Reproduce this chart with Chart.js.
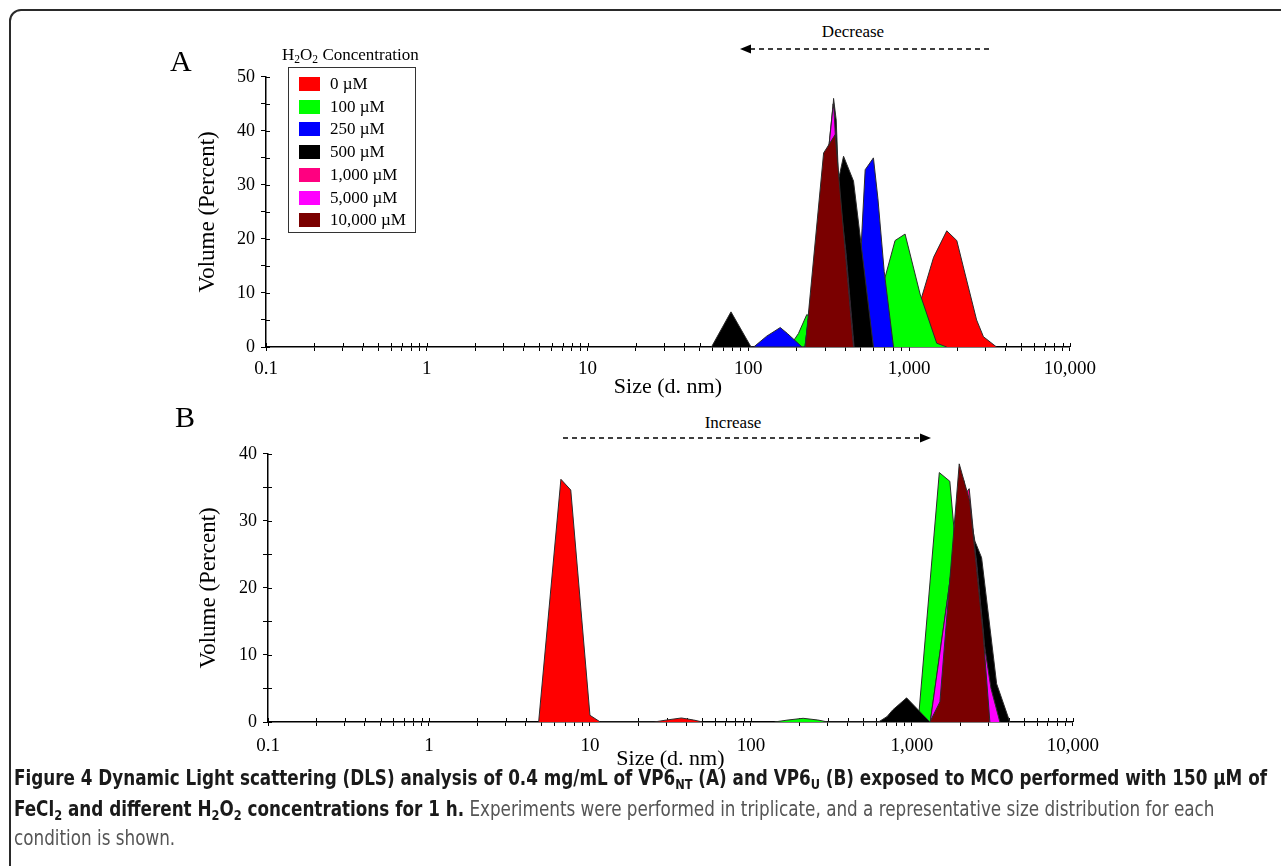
<!DOCTYPE html>
<html>
<head>
<meta charset="utf-8">
<script src="https://cdn.jsdelivr.net/npm/chart.js@4.4.1/dist/chart.umd.min.js"></script>
<style>
  body { margin: 0; background: #fff; width: 1281px; height: 866px; overflow: hidden; position: relative; font-family: "Liberation Serif", serif; color: #000; }
  .frame { position: absolute; left: 9px; top: 9px; width: 1300px; height: 900px; border: 2px solid #2a2a2a; border-radius: 12px; box-sizing: border-box; }
  canvas { position: absolute; }
  #chartA { left: 190px; top: 60px; }
  #chartB { left: 191px; top: 437px; }
  .panel { position: absolute; font-size: 30px; line-height: 30px; }
  sub { font-size: 68%; vertical-align: -0.3em; line-height: 0; }
  #legTitle { position: absolute; left: 282px; top: 45px; font-size: 17px; white-space: nowrap; }
  #legend { position: absolute; left: 288px; top: 67px; width: 128px; height: 166px; border: 1.5px solid #333; box-sizing: border-box; background: #fff; }
  .item { position: absolute; left: 10px; height: 20px; font-size: 17px; line-height: 20px; white-space: nowrap; }
  .item span.sw { position: absolute; left: 0; top: 3px; width: 21px; height: 14px; }
  .item span.tx { position: absolute; left: 31px; top: 0; }
  .note { position: absolute; font-size: 17px; white-space: nowrap; transform: translateX(-50%); }
  .cap { position: absolute; left: 14px; top: 0; height: 30px; line-height: 30px; font-family: "Liberation Sans Narrow", "DejaVu Sans Condensed", "Liberation Sans", sans-serif; font-size: 21px; color: #555; white-space: nowrap; transform-origin: 0 50%; }
  .cap b { color: #1a1a1a; }
</style>
</head>
<body>
<div class="frame"></div>
<canvas id="chartA" width="913" height="344"></canvas>
<canvas id="chartB" width="917" height="337"></canvas>

<div class="panel" style="left:170px; top:46px;">A</div>
<div class="panel" style="left:175px; top:402px;">B</div>

<div id="legTitle">H<sub>2</sub>O<sub>2</sub> Concentration</div>
<div id="legend"></div>

<div class="note" style="left:853px; top:22px;">Decrease</div>
<div class="note" style="left:733px; top:413px;">Increase</div>
<svg style="position:absolute; left:0; top:0;" width="1281" height="866">
  <line x1="750" y1="49" x2="993" y2="49" stroke="#000" stroke-width="1.3" stroke-dasharray="5,4"/>
  <polygon points="740,49 751,44.5 751,53.5" fill="#000"/>
  <line x1="563" y1="438" x2="921" y2="438" stroke="#000" stroke-width="1.3" stroke-dasharray="5,4"/>
  <polygon points="931,438 920,433.5 920,442.5" fill="#000"/>
</svg>

<div class="cap" id="cap1" style="top:763px;"><b>Figure 4 Dynamic Light scattering (DLS) analysis of 0.4 mg/mL of VP6<sub>NT</sub> (A) and VP6<sub>U</sub> (B) exposed to MCO performed with 150 µM of</b></div>
<div class="cap" id="cap2" style="top:794px;"><b>FeCl<sub>2</sub> and different H<sub>2</sub>O<sub>2</sub> concentrations for 1 h.</b> Experiments were performed in triplicate, and a representative size distribution for each</div>
<div class="cap" id="cap3" style="top:823px;">condition is shown.</div>

<script>
// legend / series
const seriesLabels = ['0 µM', '100 µM', '250 µM', '500 µM', '1,000 µM', '5,000 µM', '10,000 µM'];
const seriesColors = ['#ff0000', '#00ff00', '#0000ff', '#000000', '#ff0080', '#ff00ff', '#7a0000'];

// x axis: decades and their labels
const xDecades = [0.1, 1, 10, 100, 1000, 10000];
const xTickLabels = ['0.1', '1', '10', '100', '1,000', '10,000'];

// panel A (VP6 NT) - [size d.nm, volume %]
const a0uM = [[900, 0], [1100, 4.5], [1200, 9.3], [1420, 16.6], [1715, 21.5], [1980, 19.7], [2175, 14.8], [2630, 5], [2900, 1.9], [3500, 0]];
const a100uM = [[180, 0], [205, 2.5], [231, 6], [260, 5], [300, 4], [400, 3], [500, 5], [600, 8], [709, 12.9], [818, 19.7], [944, 20.9], [1170, 9.8], [1485, 0.7], [1715, 0]];
const a250uM = [[108, 0], [130, 2], [158, 3.6], [175, 2.5], [216, 0], [440, 0], [480, 6], [510, 22], [533, 32.8], [600, 35], [640, 27.4], [700, 14], [800, 0]];
const a500uM = [[59, 0], [78, 6.5], [104, 0], [250, 0], [300, 22], [333, 42], [339, 46], [352, 42], [364, 31], [391, 35.3], [451, 30.7], [600, 0]];
const a1000uM = [[225, 0], [300, 30], [337, 45], [342, 43], [362, 30], [400, 17], [452, 0]];
const a5000uM = [[225, 0], [300, 30], [335, 44], [340, 44.5], [360, 31], [405, 17.5], [455, 0]];
const a10000uM = [[226, 0], [294, 35.9], [347, 39.3], [451, 0]];

// panel B (VP6 U)
const b0uM = [[4.8, 0], [6.6, 36.2], [7.6, 34.6], [10, 1], [11.6, 0], [25, 0], [30, 0.3], [37, 0.6], [44, 0.3], [50, 0]];
const b100uM = [[140, 0], [170, 0.3], [211, 0.55], [260, 0.3], [300, 0], [1070, 0], [1110, 1.8], [1480, 37.2], [1720, 35.9], [2000, 18], [2400, 0]];
const b250uM = [];
const b500uM = [[620, 0], [700, 0.8], [760, 1.8], [927, 3.6], [1294, 0], [1500, 0], [1800, 18], [2100, 36], [2300, 31], [2460, 27], [2710, 24.5], [3360, 5.7], [4060, 0]];
const b1000uM = [[1300, 0], [1700, 20], [2000, 33], [2270, 34.8], [2520, 23.5], [2780, 13.5], [3050, 1.5], [3200, 0]];
const b5000uM = [[1300, 0], [1700, 20], [2000, 33], [2200, 34], [2520, 24], [2800, 12], [3100, 5], [3520, 0]];
const b10000uM = [[1294, 0], [1493, 3], [1968, 38.5], [2290, 32.9], [2520, 23], [2770, 13.1], [3050, 0]];

// html legend
const legend = document.getElementById('legend');
seriesLabels.forEach((lab, i) => {
  const row = document.createElement('div');
  row.className = 'item';
  row.style.top = (6 + i * 22.7) + 'px';
  row.innerHTML = `<span class="sw" style="background:${seriesColors[i]}"></span><span class="tx">${lab}</span>`;
  legend.appendChild(row);
});

// minor ticks 1..9 per decade
const xTickValues = [];
xDecades.forEach((d, i) => {
  if (i === xDecades.length - 1) { xTickValues.push(d); return; }
  for (let k = 1; k <= 9; k++) xTickValues.push(d * k);
});

const serif = 'Liberation Serif';

// small tick marks reaching into the plot, like the original
const innerTicks = {
  id: 'innerTicks',
  beforeDatasetsDraw(chart) {
    const {ctx, chartArea, scales} = chart;
    ctx.save();
    ctx.strokeStyle = '#000';
    ctx.lineWidth = 1;
    ctx.beginPath();
    scales.x.ticks.forEach(t => {
      const px = Math.round(scales.x.getPixelForValue(t.value)) + 0.5;
      ctx.moveTo(px, chartArea.bottom);
      ctx.lineTo(px, chartArea.bottom - 4);
    });
    scales.y.ticks.forEach(t => {
      const py = Math.round(scales.y.getPixelForValue(t.value)) + 0.5;
      ctx.moveTo(chartArea.left, py);
      ctx.lineTo(chartArea.left + 4, py);
    });
    ctx.stroke();
    ctx.restore();
  }
};

function makeChart(id, seriesList, yMax, yWidth, xHeight, xTitlePad, xLabelPad) {
  const datasets = seriesList.map((pts, i) => ({
    label: seriesLabels[i],
    data: pts.map(p => ({x: p[0], y: p[1]})),
    backgroundColor: seriesColors[i],
    borderColor: '#2b2b2b',
    borderWidth: 1,
    fill: 'origin',
    pointRadius: 0,
    tension: 0,
    order: seriesList.length - 1 - i
  }));
  return new Chart(document.getElementById(id), {
    type: 'line',
    data: {datasets},
    plugins: [innerTicks],
    options: {
      responsive: false,
      animation: false,
      events: [],
      layout: {padding: {top: 15, right: 30, left: 0, bottom: 0}},
      plugins: {legend: {display: false}, tooltip: {enabled: false}},
      scales: {
        x: {
          type: 'logarithmic',
          min: 0.1,
          max: 10000,
          border: {color: '#000', width: 1.5},
          grid: {drawOnChartArea: false, tickLength: 4, color: '#000'},
          afterBuildTicks: s => { s.ticks = xTickValues.map(v => ({value: v})); },
          ticks: {
            autoSkip: false, maxRotation: 0, color: '#000', padding: xLabelPad,
            font: {family: serif, size: 19},
            callback: v => {
              const e = Math.log10(v);
              return Math.abs(e - Math.round(e)) < 1e-6 ? xTickLabels[Math.round(e) + 1] : '';
            }
          },
          title: {display: true, text: 'Size (d. nm)', color: '#000', font: {family: serif, size: 22}, padding: {top: 0, bottom: xTitlePad}},
          afterFit: s => { s.height = xHeight; }
        },
        y: {
          min: 0,
          max: yMax,
          border: {color: '#000', width: 1.5},
          grid: {drawOnChartArea: false, tickLength: 5, color: '#000'},
          ticks: {
            stepSize: 5, autoSkip: false, color: '#000', padding: 6,
            font: {family: serif, size: 18},
            callback: v => (v % 10 === 0 ? String(v) : '')
          },
          title: {display: true, text: 'Volume (Percent)', color: '#000', font: {family: serif, size: 23}, padding: {top: 4, bottom: 0}},
          afterFit: s => { s.width = yWidth; }
        }
      }
    }
  });
}

makeChart('chartA', [a0uM, a100uM, a250uM, a500uM, a1000uM, a5000uM, a10000uM], 50, 76, 57, 4, 7);
makeChart('chartB', [b0uM, b100uM, b250uM, b500uM, b1000uM, b5000uM, b10000uM], 40, 77, 52, 2, 9);

// fit caption lines to the width of the original
const cap1 = document.getElementById('cap1');
const k = 1253 / cap1.getBoundingClientRect().width;
document.querySelectorAll('.cap').forEach(c => { c.style.transform = `scaleX(${k})`; });
</script>
</body>
</html>
